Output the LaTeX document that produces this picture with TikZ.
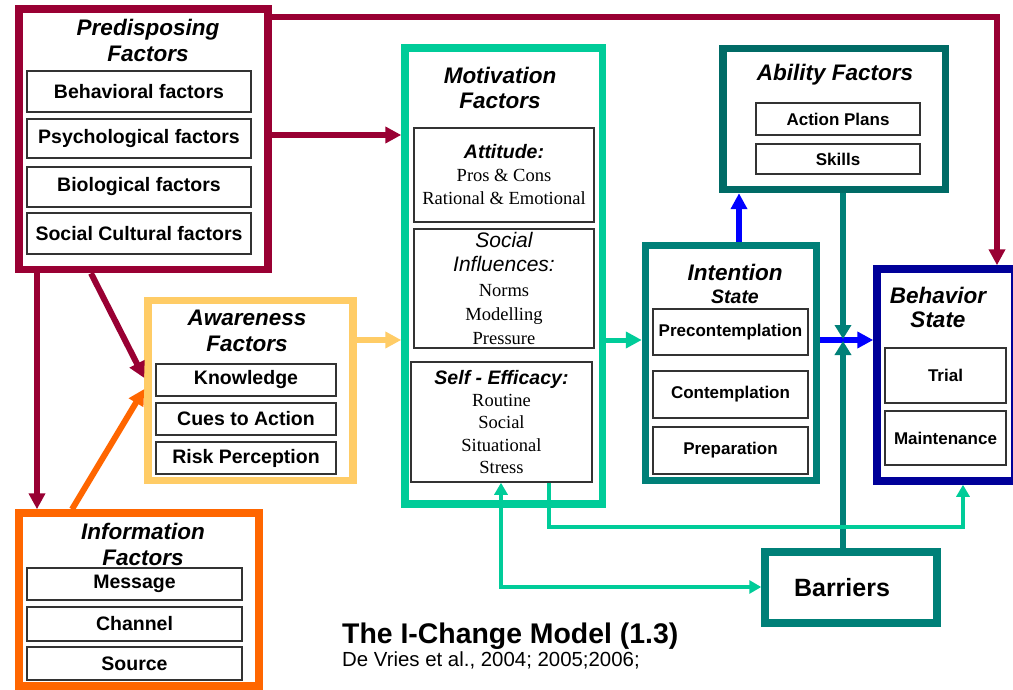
\documentclass[tikz,border=0pt]{standalone}
\usepackage{fontspec}
\setmainfont{Liberation Sans}
\newfontfamily\serifface{Liberation Serif}
\usetikzlibrary{arrows.meta}

\definecolor{crimson}{HTML}{990033}
\definecolor{mint}{HTML}{00CC99}
\definecolor{sand}{HTML}{FFCC66}
\definecolor{tangerine}{HTML}{FF6600}
\definecolor{deepteal}{HTML}{006B66}
\definecolor{tealframe}{HTML}{008078}
\definecolor{navyframe}{HTML}{000099}
\definecolor{brightblue}{HTML}{0000FF}
\definecolor{itemline}{HTML}{333333}

\tikzset{
  frame/.style={draw=#1, line width=7.5pt, fill=white, inner sep=0pt},
  item/.style={draw=itemline, line width=1.5pt, fill=white, inner sep=0pt, align=center},
  itemL/.style={font=\bfseries\fontsize{19.5}{23}\selectfont},
  itemS/.style={font=\bfseries\fontsize{17}{20}\selectfont},
  heading/.style={align=center, inner sep=0pt, font=\bfseries\itshape\fontsize{22.5}{#1}\selectfont},
  heading/.default=26,
  link/.style={line width=#1, line join=miter},
  bigtip/.style={-{Triangle[length=16pt,width=16pt]}},
  smalltip/.style={-{Triangle[length=12pt,width=13pt]}},
}

\begin{document}
\begin{tikzpicture}[x=1pt, y=-1pt]
\useasboundingbox[fill=white] (0,0) rectangle (1013,690);

% ---------- outer frames ----------
\node[frame=crimson,   minimum width=249pt,   minimum height=260.5pt] (pred)     at (143.5,139.25) {};
\node[frame=mint,      minimum width=197.5pt, minimum height=456pt]   (motiv)    at (503.75,276)   {};
\node[frame=sand,      minimum width=205pt,   minimum height=180pt]   (aware)    at (250.5,390.5)  {};
\node[frame=tangerine, minimum width=240pt,   minimum height=173pt]   (info)     at (139,599.5)    {};
\node[frame=deepteal,  minimum width=222.5pt, minimum height=141pt]   (ability)  at (834.25,119)   {};
\node[frame=tealframe, minimum width=171pt,   minimum height=235pt]   (intent)   at (731,363)      {};
\node[frame=navyframe, minimum width=137.5pt, minimum height=212pt]   (behav)    at (945.75,375)   {};
\node[frame=tealframe, minimum width=172pt,   minimum height=71pt]    (barriers) at (851,587.5)    {};

% ---------- headings ----------
\node[heading] (predT)   at (148,40)    {Predisposing\\Factors};
\node[heading=25] (motivT)  at (500,87.5)  {Motivation\\Factors};
\node[heading] (awareT)  at (247,331)   {Awareness\\Factors};
\node[heading] (infoT)   at (143,544)   {Information\\Factors};
\node[heading] (abilityT) at (835,75)   {Ability Factors};
\node[heading=23] (intentT) at (735,283.5) {Intention\\{\fontsize{19.5}{23}\selectfont State}};
\node[heading=24] (behavT)  at (938,307)   {Behavior\\State};
\node[inner sep=0pt, font=\bfseries\fontsize{25}{28}\selectfont] (barT) at (842,588) {Barriers};

% ---------- predisposing factors ----------
\node[item, itemL, minimum width=224pt, minimum height=41pt] (behavioral) at (139,91.5)  {Behavioral factors};
\node[item, itemL, minimum width=224pt, minimum height=39pt] (psych)      at (139,138.5) {Psychological factors};
\node[item, itemL, minimum width=224pt, minimum height=40pt] (bio)        at (139,187)   {Biological factors};
\node[item, itemL, minimum width=224pt, minimum height=41pt] (socult)     at (139,233.5) {Social Cultural factors};

% ---------- motivation factors ----------
\node[item, minimum width=180pt, minimum height=94pt, font=\fontsize{18.5}{23}\selectfont] (attitude) at (504,175)
  {{\bfseries\itshape\fontsize{19.5}{23}\selectfont Attitude:}\\{\serifface Pros \& Cons}\\{\serifface Rational \& Emotional}};
\node[item, minimum width=180pt, minimum height=119pt, font=\fontsize{18.5}{24.25}\selectfont] (social) at (504,288.5)
  {{\itshape\fontsize{21}{24.25}\selectfont Social}\\{\itshape\fontsize{21}{24.25}\selectfont Influences:}\\{\serifface Norms}\\{\serifface Modelling}\\{\serifface Pressure}};
\node[item, minimum width=181pt, minimum height=120pt, font=\fontsize{18.5}{22.25}\selectfont] (self) at (501.5,422)
  {{\bfseries\itshape\fontsize{19.5}{22.25}\selectfont Self - Efficacy:}\\{\serifface Routine}\\{\serifface Social}\\{\serifface Situational}\\{\serifface Stress}};

% ---------- awareness factors ----------
\node[item, itemL, minimum width=180pt, minimum height=32pt] (knowledge) at (246,380) {Knowledge};
\node[item, itemL, minimum width=180pt, minimum height=32pt] (cues)      at (246,419) {Cues to Action};
\node[item, itemL, minimum width=180pt, minimum height=32pt] (risk)      at (246,458) {Risk Perception};

% ---------- information factors ----------
\node[item, itemL, minimum width=215pt, minimum height=32pt] (message) at (134.5,584)   {Message};
\node[item, itemL, minimum width=215pt, minimum height=34pt] (channel) at (134.5,624)   {Channel};
\node[item, itemL, minimum width=215pt, minimum height=33pt] (source)  at (134.5,663.5) {Source};

% ---------- ability factors ----------
\node[item, itemS, minimum width=164pt, minimum height=32pt] (plans)  at (838,119) {Action Plans};
\node[item, itemS, minimum width=164pt, minimum height=30pt] (skills) at (838,159) {Skills};

% ---------- intention state ----------
\node[item, itemS, minimum width=155pt, minimum height=46pt] (precon) at (730.5,332)   {Precontemplation};
\node[item, itemS, minimum width=155pt, minimum height=47pt] (contem) at (730.5,394.5) {Contemplation};
\node[item, itemS, minimum width=155pt, minimum height=47pt] (prep)   at (730.5,450.5) {Preparation};

% ---------- behavior state ----------
\node[item, itemS, minimum width=121pt, minimum height=55pt] (trial) at (945.5,375.5) {Trial};
\node[item, itemS, minimum width=121pt, minimum height=54pt] (maint) at (945.5,438)   {Maintenance};

% ---------- title ----------
\node[anchor=base west, inner sep=0pt, font=\bfseries\fontsize{28.4}{30}\selectfont] (title) at (342,643) {The I-Change Model (1.3)};
\node[anchor=base west, inner sep=0pt, font=\fontsize{20.4}{22}\selectfont] (cite) at (342,666) {De Vries et al., 2004; 2005;2006;};

% ---------- connectors ----------
\coordinate (topright) at (997,17);
\coordinate (junction) at (843,340);
\coordinate (detour)   at (549,527);

% predisposing factors
\draw[crimson, link=6pt, bigtip] (pred.east |- 0,17) -- (topright) -- (behav.north -| topright);
\draw[crimson, link=6pt, bigtip] (pred.east |- 0,135) -- (motiv.west |- 0,135);
\draw[crimson, link=6pt, bigtip] (pred.south -| 37,0) -- (info.north -| 37,0);
\draw[crimson, link=6pt, bigtip] (pred.south -| 91,0) -- (aware.west |- 0,378);

% information and awareness
\draw[tangerine, link=6pt, bigtip] (info.north -| 72,0) -- (aware.west |- 0,389);
\draw[sand, link=6pt, bigtip] (aware.east |- 0,340) -- (motiv.west |- 0,340);

% motivation to intention
\draw[mint, link=5pt, bigtip] (motiv.east |- junction) -- (intent.west |- junction);

% intention to ability and behavior
\draw[brightblue, link=6pt, bigtip] (intent.north -| 739,0) -- (ability.south -| 739,0);
\draw[brightblue, link=6pt, bigtip] (intent.east |- junction) -- (behav.west |- junction);

% ability and barriers meet on the intention-behavior link
\draw[tealframe, link=5.5pt, -{Triangle[length=14pt,width=16pt]}] (ability.south -| junction) -- ([yshift=1pt]junction);
\draw[tealframe, link=5.5pt, -{Triangle[length=14pt,width=16pt]}] (barriers.north -| junction) -- ([yshift=-1pt]junction);

% self-efficacy feedback loops
\draw[mint, link=4.5pt, {Triangle[length=12pt,width=13pt]}-{Triangle[length=12pt,width=13pt]}]
  (self.south -| 501,0) |- (barriers.west |- 0,587);
\draw[mint, link=4.5pt, smalltip] (self.south -| detour) -- (detour) -| (behav.south -| 963,0);

\end{tikzpicture}
\end{document}
